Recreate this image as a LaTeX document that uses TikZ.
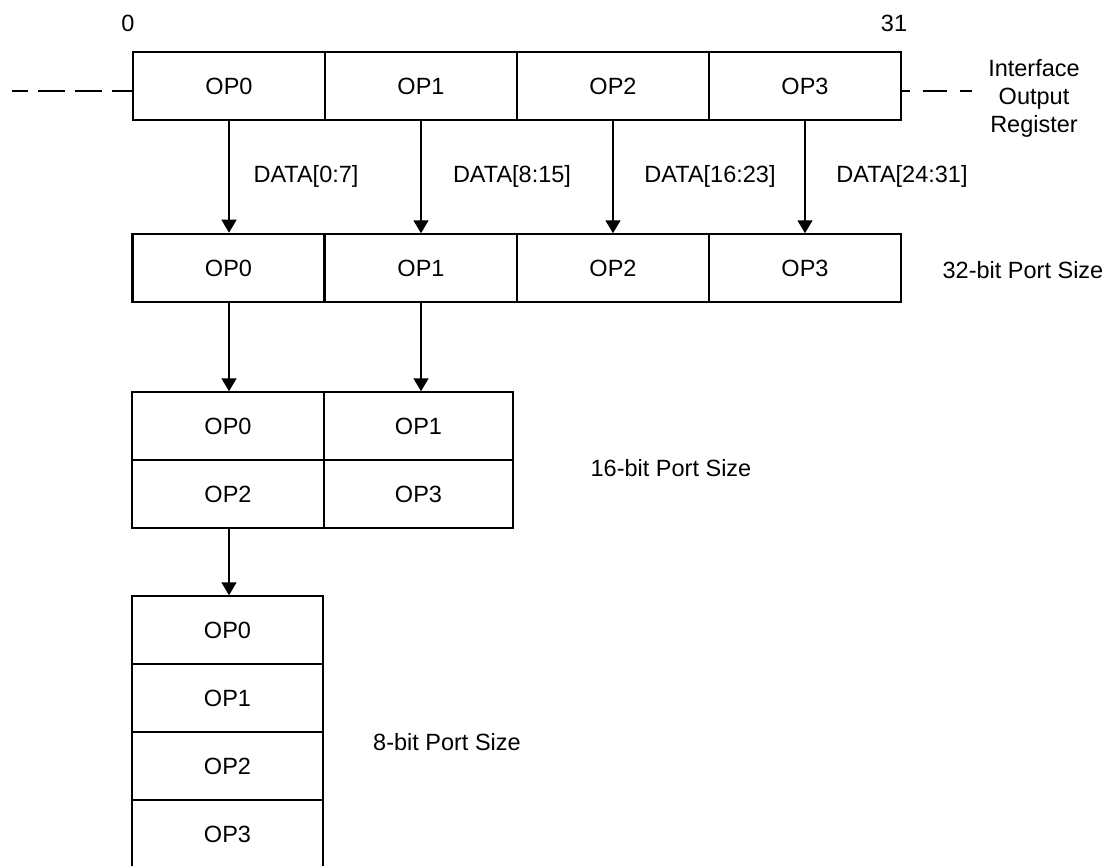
\documentclass[tikz,border=0pt]{standalone}
\usepackage{fontspec}
\setmainfont{Liberation Sans}
\usetikzlibrary{arrows.meta}
\tikzset{
  lbl/.style={font=\fontsize{23.5}{28}\selectfont, inner sep=0pt},
  cell/.style={draw, line width=1.5pt, minimum width=192pt, minimum height=68pt, inner sep=0pt, font=\fontsize{23.5}{28}\selectfont},
  thickcell/.style={cell, line width=2.6pt},
  arr/.style={line width=1.5pt, -{Triangle[width=15pt,length=13pt]}},
  dashline/.style={line width=1.5pt}
}
\begin{document}
\begin{tikzpicture}[x=1pt,y=-1pt]
\useasboundingbox (0,0) rectangle (1111,865);
\clip (0,0) rectangle (1111,865);
\fill[white] (0,0) rectangle (1111,865);

% bit indices
\node[lbl] (b0) at (128,23) {0};
\node[lbl] (b31) at (894,23) {31};

% interface output register
\node[cell] (t0) at (229,86) {OP0};
\node[cell] (t1) at (421,86) {OP1};
\node[cell] (t2) at (613,86) {OP2};
\node[cell] (t3) at (805,86) {OP3};
\node[lbl, align=center, anchor=north] (ireg) at (1034,59.5) {Interface\\Output\\Register};

\coordinate (dl) at (12,91);
\coordinate (dr) at (972,91);
\draw[dashline, dash pattern=on 27pt off 10pt, dash phase=11pt] (dl) -- (dl -| t0.west);
\draw[dashline, dash pattern=on 24pt off 13pt, dash phase=16pt] (dr -| t3.east) -- (dr);

% 32-bit port
\node[cell] (p1) at (421,268) {OP1};
\node[cell] (p2) at (613,268) {OP2};
\node[cell] (p3) at (805,268) {OP3};
\node[thickcell] (p0) at (228.5,268) {OP0};
\node[lbl] (l32) at (1023,270) {32-bit Port Size};

\draw[arr] (t0.south) -- (t0.south |- p0.north);
\draw[arr] (t1.south) -- (p1.north);
\draw[arr] (t2.south) -- (p2.north);
\draw[arr] (t3.south) -- (p3.north);

\node[lbl, anchor=base] (d0) at (306,182) {DATA[0:7]};
\node[lbl, anchor=base] (d1) at (512,182) {DATA[8:15]};
\node[lbl, anchor=base] (d2) at (710,182) {DATA[16:23]};
\node[lbl, anchor=base] (d3) at (902,182) {DATA[24:31]};

% 16-bit port
\node[cell] (s0) at (228,426) {OP0};
\node[cell, minimum width=189pt] (s1) at (418.5,426) {OP1};
\node[cell] (s2) at (228,494) {OP2};
\node[cell, minimum width=189pt] (s3) at (418.5,494) {OP3};
\node[lbl] (l16) at (671,468) {16-bit Port Size};

\draw[arr] (p0.south -| t0.south) -- (t0.south |- s0.north);
\draw[arr] (p1.south) -- (p1.south |- s1.north);

% 8-bit port
\node[cell, minimum width=191pt] (e0) at (227.5,630) {OP0};
\node[cell, minimum width=191pt] (e1) at (227.5,698) {OP1};
\node[cell, minimum width=191pt] (e2) at (227.5,766) {OP2};
\node[cell, minimum width=191pt] (e3) at (227.5,834) {OP3};
\node[lbl] (l8) at (447,742) {8-bit Port Size};

\draw[arr] (s2.south -| t0.south) -- (t0.south |- e0.north);
\end{tikzpicture}
\end{document}
